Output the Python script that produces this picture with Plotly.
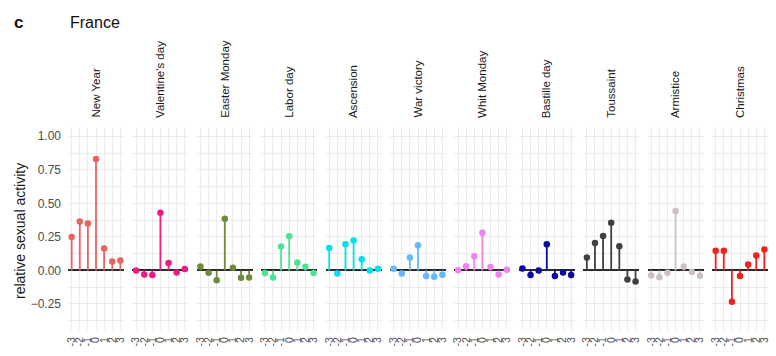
import plotly.graph_objects as go

holidays = ["New Year", "Valentine's day", "Easter Monday", "Labor day", "Ascension",
            "War victory", "Whit Monday", "Bastille day", "Toussaint", "Armistice", "Christmas"]
days = [-3, -2, -1, 0, 1, 2, 3]
new_year = [0.25, 0.365, 0.35, 0.83, 0.163, 0.067, 0.074]
valentines = [0.0, -0.03, -0.035, 0.43, 0.055, -0.015, 0.01]
easter_monday = [0.03, -0.017, -0.074, 0.386, 0.02, -0.054, -0.052]
labor_day = [-0.02, -0.052, 0.178, 0.255, 0.06, 0.027, -0.02]
ascension = [0.168, -0.022, 0.196, 0.223, 0.084, 0.0, 0.012]
war_victory = [0.012, -0.022, 0.097, 0.188, -0.042, -0.047, -0.032]
whit_monday = [0.002, 0.032, 0.106, 0.28, 0.025, -0.03, 0.005]
bastille_day = [0.015, -0.035, 0.0, 0.196, -0.042, -0.015, -0.035]
toussaint = [0.097, 0.205, 0.257, 0.356, 0.18, -0.067, -0.082]
armistice = [-0.037, -0.05, -0.017, 0.443, 0.03, -0.012, -0.04]
christmas = [0.146, 0.146, -0.233, -0.042, 0.045, 0.111, 0.156]
series = [new_year, valentines, easter_monday, labor_day, ascension, war_victory,
          whit_monday, bastille_day, toussaint, armistice, christmas]
colors = ["#E9635F", "#F01A85", "#6E8B3D", "#4EE394", "#00E0EE", "#63B8FF",
          "#EE82EE", "#0A0AA0", "#404040", "#CDC0C2", "#F02020"]
y_ticks = [-0.25, 0.0, 0.25, 0.5, 0.75, 1.0]
y_tick_text = ["\u22120.25", "0.00", "0.25", "0.50", "0.75", "1.00"]

W, H = 776, 356
FONT = "Liberation Sans, Arial, sans-serif"
GRID = "#EBEBEB"

fig = go.Figure()
layout = dict(width=W, height=H, margin=dict(l=0, r=0, t=0, b=0),
              paper_bgcolor="white", plot_bgcolor="white", showlegend=False,
              font=dict(family=FONT))

y_dom = [1 - 330 / H, 1 - 127 / H]
annotations = []
for i, (name, vals, col) in enumerate(zip(holidays, series, colors)):
    n = "" if i == 0 else str(i + 1)
    xa, ya = "x" + n, "y" + n
    sx, sy = [], []
    for d, v in zip(days, vals):
        sx += [d, d, None]
        sy += [0, v, None]
    fig.add_trace(go.Scatter(x=sx, y=sy, mode="lines", line=dict(color=col, width=1.8),
                             xaxis=xa, yaxis=ya, hoverinfo="skip"))
    fig.add_trace(go.Scatter(x=days, y=vals, mode="markers", marker=dict(color=col, size=6.5),
                             xaxis=xa, yaxis=ya))
    left = 68 + 64.4 * i
    layout["xaxis" + n] = dict(domain=[left / W, (left + 56) / W], range=[-3.45, 3.45],
                               anchor=ya, tickmode="array", tickvals=days,
                               ticktext=[str(d) for d in days],
                               tickangle=-90, showgrid=True, gridcolor=GRID, gridwidth=1,
                               zeroline=False, showline=False, ticks="", ticklabelstandoff=4,
                               tickfont=dict(size=10.5, color="#4D4D4D", family=FONT),
                               automargin=False, fixedrange=True)
    layout["yaxis" + n] = dict(domain=y_dom, range=[-0.444, 1.069], anchor=xa,
                               tickmode="array", tickvals=y_ticks, ticktext=y_tick_text,
                               showticklabels=(i == 0), showgrid=True, gridcolor=GRID, gridwidth=1,
                               minor=dict(dtick=0.125, tick0=0, showgrid=True, gridcolor=GRID, gridwidth=0.6),
                               zeroline=True, zerolinecolor="#2B2B2B", zerolinewidth=1.6,
                               showline=False, ticks="", ticklabelstandoff=6,
                               tickfont=dict(size=12, color="#4D4D4D", family=FONT),
                               automargin=False, fixedrange=True)
    annotations.append(dict(text=name, x=(left + 28) / W, y=1 - 120 / H, xref="paper", yref="paper",
                            xanchor="center", yanchor="bottom", textangle=-90, showarrow=False,
                            font=dict(size=11.5, color="#1A1A1A", family=FONT)))

annotations.append(dict(text="France", x=68 / W, y=1 - 22 / H, xref="paper", yref="paper",
                        xanchor="left", yanchor="middle", showarrow=False,
                        font=dict(size=16, color="#111111", family=FONT)))
annotations.append(dict(text="<b>c</b>", x=12 / W, y=1 - 22 / H, xref="paper", yref="paper",
                        xanchor="left", yanchor="middle", showarrow=False,
                        font=dict(size=17, color="#111111", family=FONT)))
annotations.append(dict(text="relative sexual activity", x=20 / W, y=1 - 231 / H, xref="paper", yref="paper",
                        xanchor="center", yanchor="middle", textangle=-90, showarrow=False,
                        font=dict(size=14, color="#1A1A1A", family=FONT)))
layout["annotations"] = annotations
fig.update_layout(**layout)
fig.write_html("out.html", config={"displayModeBar": False},
               post_script="document.body.style.margin='0';document.body.style.padding='0';")
